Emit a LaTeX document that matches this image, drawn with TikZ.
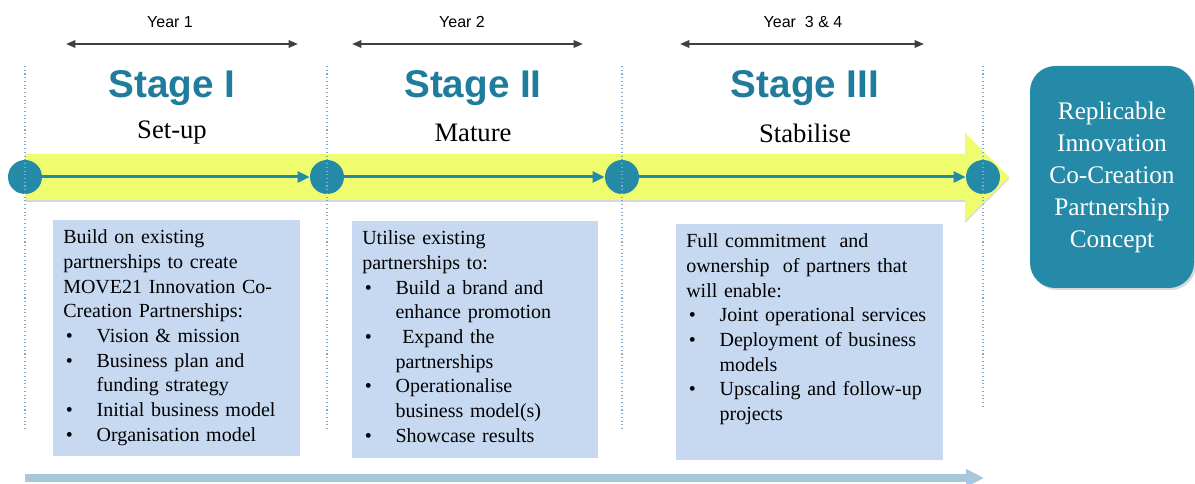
\documentclass[tikz,border=0pt]{standalone}
\usepackage{fontspec}
\setmainfont{Liberation Serif}
\setsansfont{Liberation Sans}
\usetikzlibrary{arrows.meta,shadows}

\definecolor{teal}{HTML}{2589A8}
\definecolor{stagecol}{HTML}{1F7C9C}
\definecolor{bandcol}{HTML}{EEFC6E}
\definecolor{boxcol}{HTML}{C6D9F1}
\definecolor{basecol}{HTML}{A7C7DC}
\definecolor{guidecol}{HTML}{7FA9D4}

\newcommand{\bul}[1]{\par\noindent\hangindent=25pt\hangafter=1\makebox[25pt][l]{\hspace{2pt}\textbullet}#1\par}
\newcommand{\brk}{\hfil\break}

\begin{document}
\begin{tikzpicture}[x=0.75pt, y=-0.75pt]
    \tikzstyle{milestone}=[circle,fill=teal,minimum size=25.5pt,inner sep=0pt]
    \tikzstyle{flow}=[draw=teal,line width=2.25pt,-{Triangle[length=9pt,width=8pt]}]
    \tikzstyle{span}=[draw=black!75,line width=1.5pt,{Triangle[length=7pt,width=5.5pt]}-{Triangle[length=7pt,width=5.5pt]}]
    \tikzstyle{guide}=[draw=guidecol,line width=0.8pt,dotted]
    \tikzstyle{annot}=[font=\sffamily\fontsize{12}{14}\selectfont]
    \tikzset{%
    stage title/.style={
      font=\sffamily\bfseries\fontsize{29}{34}\selectfont,
      text=stagecol},
    stage sub/.style={
      font=\fontsize{20}{24}\selectfont},
    info box/.style={
      fill=boxcol,
      inner sep=0pt,
      anchor=north west},
    info text/.style={
      font=\fontsize{15}{18.5}\selectfont,
      anchor=base west,
      inner sep=0pt},
    result/.style={
      fill=teal,
      rounded corners=19pt,
      text=white,
      align=center,
      minimum width=123pt,
      minimum height=166.5pt,
      font=\fontsize{19}{24}\selectfont,
      drop shadow={opacity=0.3,shadow xshift=1.5pt,shadow yshift=-1.5pt}},
    }

    \useasboundingbox (0,0) rectangle (1195,484);

    % yellow band with arrow head
    \fill[bandcol, drop shadow={opacity=0.3,shadow xshift=0pt,shadow yshift=-1.5pt}]
    (25,154) -- (965,154) -- (965,133) -- (1009,177) -- (965,221) -- (965,200) -- (25,200) -- cycle;

    % years above the stages
    \foreach \n/\a/\b/\c/\l in {1/66/298/170/Year 1, 2/352/583/462/Year 2, 3/680/924/803/Year~~3 \& 4}
    {
    \coordinate (year-\n-l) at (\a,44);
    \coordinate (year-\n-r) at (\b,44);
    \node [annot] (year-\n) at (\c,22) {\l};
    \draw [span] (year-\n-l) -- (year-\n-r);
    }

    % stage names
    \foreach \n/\x/\t/\s in {1/172/I/Set-up, 2/473/II/Mature, 3/805/III/Stabilise}
    {
    \node [stage title] (stage-\n) at (\x,88) {Stage \t};
    \node [stage sub] (phase-\n) at (\x,133) {\s};
    }

    % milestones on the band
    \foreach \x [count=\i] in {25, 327, 622, 983}
    \node [milestone] (mile-\i) at (\x,177) {};

    \foreach \i/\j in {1/2, 2/3, 3/4}
    \draw [flow] (mile-\i) -- (mile-\j);

    % dotted guides
    \foreach \x/\e in {25/430, 327/430, 622/430, 983/407}
    \draw [guide] (\x,66) -- (\x,\e);

    % the three boxes
    \node [info box, minimum width=185.25pt, minimum height=177pt] (box-1) at (53,220) {};
    \node [info box, minimum width=184.5pt, minimum height=177.75pt] (box-2) at (352,221) {};
    \node [info box, minimum width=200.25pt, minimum height=177pt] (box-3) at (676,224) {};

    \node [info text, text width=175pt] (text-1) at (63,244) {%
    \noindent Build on existing\brk partnerships to create\brk MOVE21 Innovation Co-\brk Creation Partnerships:
    \bul{Vision \& mission}
    \bul{Business plan and\brk funding strategy}
    \bul{Initial business model}
    \bul{Organisation model}};

    \node [info text, text width=175pt] (text-2) at (362,245) {%
    \noindent Utilise existing\brk partnerships to:
    \bul{Build a brand and\brk enhance promotion}
    \bul{\ Expand the\brk partnerships}
    \bul{Operationalise\brk business model(s)}
    \bul{Showcase results}};

    \node [info text, text width=192pt] (text-3) at (686,248) {%
    \noindent Full commitment\ \ and\brk ownership\ \ of partners that\brk will enable:
    \bul{Joint operational services}
    \bul{Deployment of business\brk models}
    \bul{Upscaling and follow-up\brk projects}};

    % final result
    \node [result] (concept) at (1112,177) {Replicable\\Innovation\\Co-Creation\\Partnership\\Concept};

    % time line at the bottom
    \coordinate (base-l) at (25,478);
    \coordinate (base-r) at (984,478);
    \draw [basecol, line width=6pt, -{Triangle[length=13.5pt,width=12.75pt]},
    drop shadow={opacity=0.25,shadow xshift=1pt,shadow yshift=-1pt}] (base-l) -- (base-r);

\end{tikzpicture}
\end{document}
